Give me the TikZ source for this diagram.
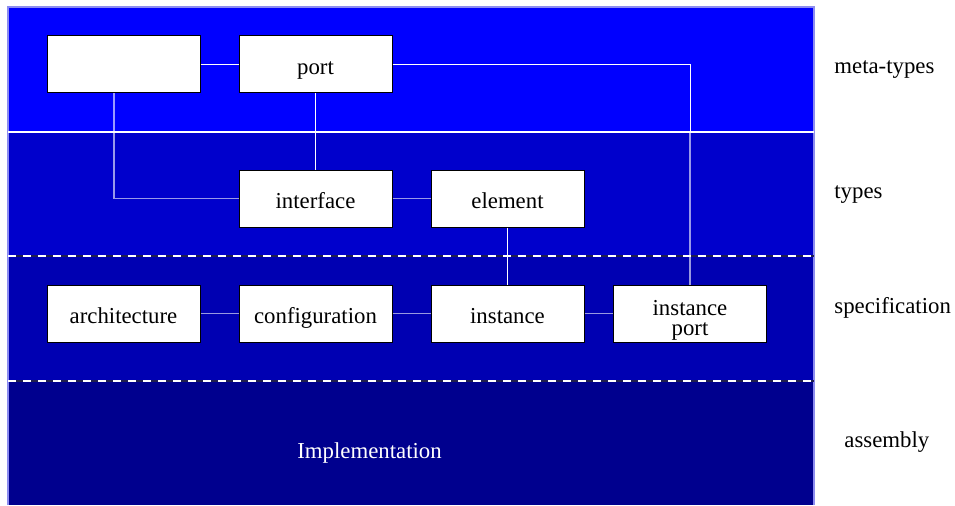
\documentclass[tikz,border=0pt]{standalone}
\usepackage{fontspec}
\setmainfont{Liberation Serif}
\definecolor{metablue}{HTML}{0000FF}
\definecolor{typeblue}{HTML}{0000CC}
\definecolor{specblue}{HTML}{0000B2}
\definecolor{asmblue}{HTML}{00008E}
\definecolor{rimblue}{HTML}{8C8CF0}
\definecolor{gapblue}{HTML}{20204E}
\tikzset{
  layerbox/.style={draw=black, line width=0.5pt, fill=white, minimum width=76.5pt,
    minimum height=28.5pt, inner sep=1pt, align=center,
    text height=10pt, text depth=0pt,
    font=\fontsize{11.4}{10}\selectfont},
  link/.style={draw=white, line width=0.5pt},
  palelink/.style={draw=white, draw opacity=0.6, line width=0.6pt},
  levellabel/.style={anchor=base west, inner sep=0pt, font=\fontsize{11.4}{12}\selectfont},
}
\begin{document}
\begin{tikzpicture}[x=0.5pt,y=-0.5pt]
  \useasboundingbox (0,0) rectangle (955,505);
  % Layer bands
  \fill[metablue] (8,7) rectangle (814,132);
  \fill[typeblue] (8,132) rectangle (814,256);
  \fill[specblue] (8,256) rectangle (814,381);
  \fill[asmblue] (8,381) rectangle (814,505);
  \draw[rimblue, line width=0.6pt] (8,505) -- (8,7) -- (814,7) -- (814,505);
  % Borders between layers
  \draw[white, line width=0.6pt] (8,132) -- (814,132);
  \draw[gapblue, line width=0.8pt] (8,256) -- (814,256);
  \draw[white, line width=0.8pt, dash pattern=on 4pt off 3.5pt] (8,256) -- (814,256);
  \draw[gapblue, line width=0.8pt] (8,381) -- (814,381);
  \draw[white, line width=0.8pt, dash pattern=on 4pt off 3.5pt] (8,381) -- (814,381);

  % Meta-types
  \node[layerbox] (blank) at (123.5,64) {};
  \node[layerbox] (port) at (315.5,64) {port};
  % Types
  \node[layerbox] (interface) at (315.5,198.5) {interface};
  \node[layerbox] (element) at (507.5,198.5) {element};
  % Specification
  \node[layerbox] (architecture) at (123.5,313.5) {architecture};
  \node[layerbox] (configuration) at (315.5,313.5) {configuration};
  \node[layerbox] (instance) at (507.5,313.5) {instance};
  \node[layerbox, text height=, text depth=] (instport) at (690,313.5)
    {\rule{0pt}{14pt}instance\\port};
  % Assembly
  \node[levellabel, text=white] (impl) at (297,458) {Implementation};

  % Connectors
  \draw[link] (blank) -- (port);
  \draw[link] (port) -- (interface);
  \draw[link] (port.east) -| (690,132);
  \draw[palelink] (690,132) -- (instport.north);
  \draw[palelink] ([xshift=-4.75pt]blank.south) |- (interface.west);
  \draw[palelink] (interface) -- (element);
  \draw[link] (element) -- (instance);
  \draw[palelink] (architecture) -- (configuration);
  \draw[palelink] (configuration) -- (instance);
  \draw[palelink] (instance) -- (instport);

  % Layer names
  \node[levellabel] (meta) at (834,73) {meta-types};
  \node[levellabel] (types) at (834,198) {types};
  \node[levellabel] (spec) at (834,313) {specification};
  \node[levellabel] (asm) at (844,447) {assembly};
\end{tikzpicture}
\end{document}
